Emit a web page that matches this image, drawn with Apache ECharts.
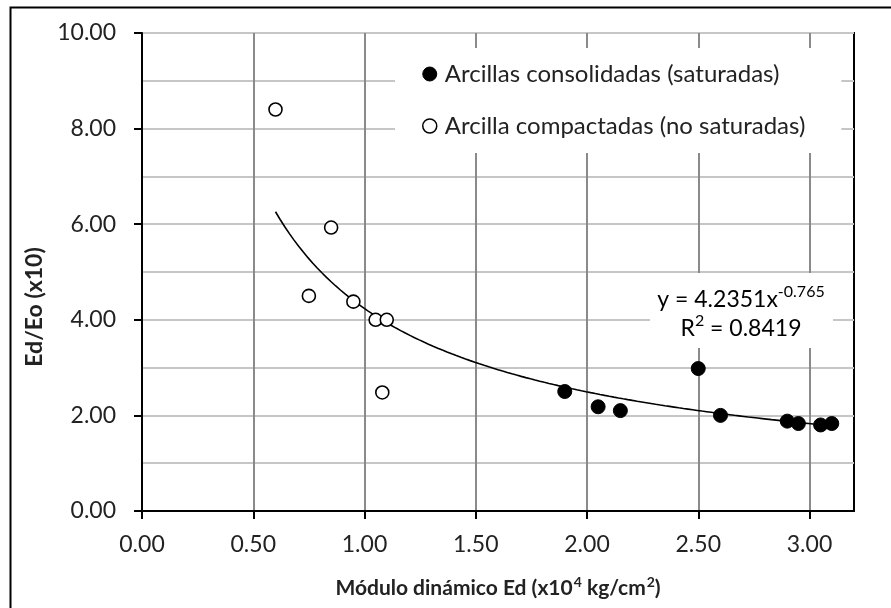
<!DOCTYPE html>
<html>
<head>
<meta charset="utf-8">
<script src="https://cdn.jsdelivr.net/npm/echarts@6/dist/echarts.min.js"></script>
<style>
html,body{margin:0;padding:0;background:#fff;}
#c{width:891px;height:608px;}
</style>
</head>
<body>
<div id="c"></div>
<script>
// ---- data ----
var satName = 'Arcillas consolidadas (saturadas)';
var satX = [1.90, 2.05, 2.15, 2.50, 2.60, 2.90, 2.95, 3.05, 3.10];
var satY = [2.50, 2.18, 2.10, 2.98, 2.00, 1.88, 1.83, 1.80, 1.83];

var compName = 'Arcilla compactadas (no saturadas)';
var compX = [0.60, 0.75, 0.85, 0.95, 1.05, 1.08, 1.10];
var compY = [8.40, 4.50, 5.93, 4.38, 4.00, 2.48, 4.00];

// power trendline shown on the chart: y = 4.2351 x^-0.765, R^2 = 0.8419
var trendA = 4.2351;
var trendB = -0.765;
var trendR2 = '0.8419';

var xTicks = [0, 0.5, 1.0, 1.5, 2.0, 2.5, 3.0];
var yTitle = 'Ed/Eo (x10)';

var FONT = 'Lato';
var TXT = '#222';

function pairs(xs, ys){ return xs.map(function(x,i){ return [x, ys[i]]; }); }

var allX = satX.concat(compX);
var xMin = Math.min.apply(null, allX), xMax = Math.max.apply(null, allX);
var trend = [];
for (var i = 0; i <= 120; i++) {
  var x = xMin + (xMax - xMin) * i / 120;
  trend.push([x, trendA * Math.pow(x, trendB)]);
}

var chart = echarts.init(document.getElementById('c'), null, {renderer:'canvas'});
chart.setOption({
  backgroundColor: '#fff',
  animation: false,
  textStyle: {fontFamily: FONT},
  grid: {left: 142, top: 33, right: 37, bottom: 97, show: true, borderColor: '#000', borderWidth: 2, backgroundColor: 'transparent'},
  xAxis: {
    type: 'value', min: 0, max: 3.2, interval: 0.5,
    name: '{b|Módulo dinámico Ed (x10}{s|4}{b| kg/cm}{s|2}{b|)}',
    nameLocation: 'middle', nameGap: 64,
    nameTextStyle: {
      rich: {
        b: {fontFamily: FONT, fontSize: 21, fontWeight: 'bold', color: TXT, lineHeight: 26},
        s: {fontFamily: FONT, fontSize: 14, fontWeight: 'bold', color: TXT, lineHeight: 26, padding: [0, 0, 12, 1]}
      }
    },
    axisLine: {show: true, onZero: false, lineStyle: {color: '#000', width: 2}},
    axisTick: {show: true, length: 8, customValues: xTicks, lineStyle: {color: '#000', width: 2}},
    axisLabel: {customValues: xTicks, margin: 22, fontSize: 23, color: TXT, fontFamily: FONT,
      formatter: function(v){ return v.toFixed(2); }},
    splitLine: {show: true, lineStyle: {color: '#8a8a8a', width: 2}}
  },
  yAxis: {
    type: 'value', min: 0, max: 10, interval: 2,
    axisLine: {show: true, onZero: false, lineStyle: {color: '#000', width: 2}},
    axisTick: {show: true, length: 8, lineStyle: {color: '#000', width: 2}},
    minorTick: {show: false, splitNumber: 2},
    axisLabel: {margin: 26, fontSize: 23, color: TXT, fontFamily: FONT,
      formatter: function(v){ return v.toFixed(2); }},
    splitLine: {show: true, lineStyle: {color: '#c6c6c6', width: 2}},
    minorSplitLine: {show: true, lineStyle: {color: '#c6c6c6', width: 2}}
  },
  legend: {
    orient: 'vertical', left: 395, top: 48,
    backgroundColor: '#fff',
    padding: [13, 36, 14, 27],
    itemGap: 26, itemWidth: 20, itemHeight: 14,
    textStyle: {fontFamily: FONT, fontSize: 24, color: TXT, lineHeight: 26},
    data: [
      {name: satName, icon: 'circle', itemStyle: {color: '#000', borderColor: '#000', borderWidth: 1}},
      {name: compName, icon: 'circle', itemStyle: {color: '#fff', borderColor: '#000', borderWidth: 1.5}}
    ]
  },
  graphic: [
    {type: 'rect', left: 8, top: 5, z: -10, silent: true,
      shape: {width: 900, height: 620}, style: {fill: 'none', stroke: '#000', lineWidth: 2}},
    {type: 'text', x: 35, y: 307, rotation: Math.PI / 2, silent: true,
      style: {text: yTitle, fontFamily: FONT, fontSize: 23, fontWeight: 'bold', fill: TXT,
        align: 'center', verticalAlign: 'middle'}},
    {type: 'rect', left: 650, top: 273, z: 50, silent: true,
      shape: {width: 183, height: 75}, style: {fill: '#fff'}},
    {type: 'text', x: 741, y: 314.5, z: 51, silent: true,
      style: {
        text: '{a|y = ' + trendA + 'x}{s|' + trendB + '}\n{a|R}{s|2}{a| = ' + trendR2 + '}',
        align: 'center', verticalAlign: 'middle',
        rich: {
          a: {fontFamily: FONT, fontSize: 23, color: TXT, lineHeight: 29},
          s: {fontFamily: FONT, fontSize: 16, color: TXT, lineHeight: 29, padding: [0, 0, 16, 0]}
        }
      }}
  ],
  series: [
    {name: 'trend', type: 'line', data: trend, showSymbol: false, symbol: 'none', smooth: false,
      lineStyle: {color: '#000', width: 1.6}, z: 3, silent: true},
    {name: satName, type: 'scatter', data: pairs(satX, satY), symbol: 'circle', symbolSize: 14,
      itemStyle: {color: '#000', borderColor: '#000', borderWidth: 1, opacity: 1}, z: 4},
    {name: compName, type: 'scatter', data: pairs(compX, compY), symbol: 'circle', symbolSize: 13,
      itemStyle: {color: '#fff', borderColor: '#000', borderWidth: 1.6, opacity: 1}, z: 4}
  ]
});
</script>
</body>
</html>
